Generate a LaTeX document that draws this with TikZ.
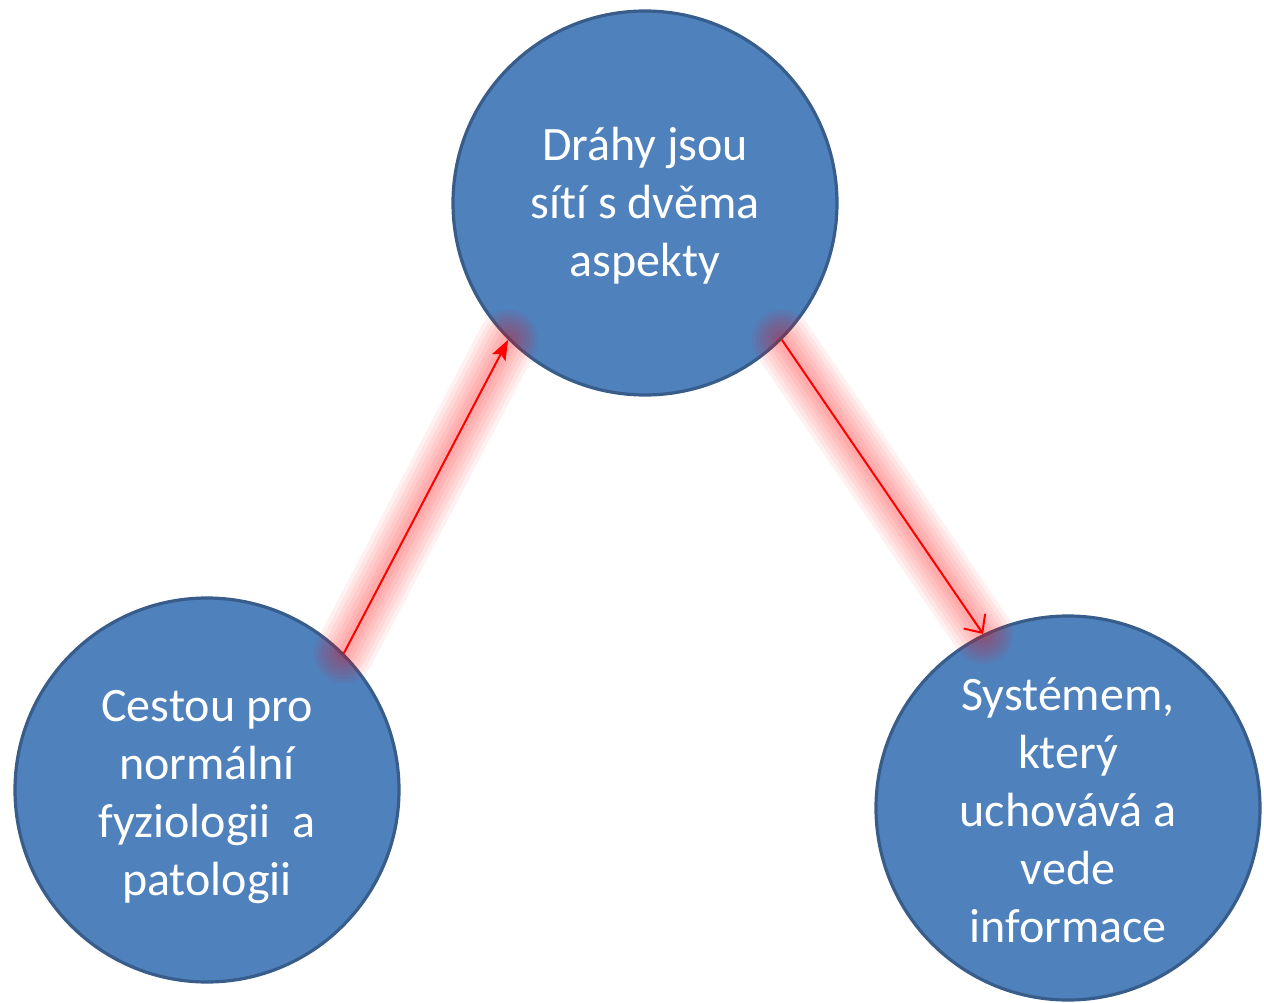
\documentclass[tikz,border=0pt]{standalone}
\usepackage{fontspec}
\setmainfont[Ligatures={NoCommon}]{Carlito}
\usetikzlibrary{arrows.meta}
\definecolor{circfill}{HTML}{4F81BD}
\definecolor{circdraw}{HTML}{385D8A}
\tikzset{
  bubble/.style={circle, draw=circdraw, line width=3.2pt, fill=circfill, minimum size=384pt, inner sep=0pt},
  btext/.style={text=white, align=center, font=\fontsize{48}{58}\selectfont, inner sep=0pt},
  glow/.style={draw=red, line cap=round, opacity=0.055},
  link/.style={draw=red, line width=2pt}
}
\begin{document}
\begin{tikzpicture}[x=1pt,y=-1pt]
\useasboundingbox (0,0) rectangle (1264,1003);
\node[bubble] (top) at (645,203) {};
\node[bubble] (left) at (207,790) {};
\node[bubble] (right) at (1068,808) {};
\node[btext] (toptext) at (645,206) {Dráhy jsou\\sítí s dvěma\\aspekty};
\node[btext] (lefttext) at (207,797) {Cestou pro\\normální\\fyziologii\ \ a\\patologii};
\node[btext] (righttext) at (1068,810) {Systémem,\\který\\uchovává a\\vede\\informace};
\foreach \w in {60,52,44,36,28,20,12} {
  \path[glow, line width=\w pt] (left.45) -- (top.225);
  \path[glow, line width=\w pt] (top.-45) -- (right.116);
}
\draw[link, -{Stealth[length=20pt,width=15pt,inset=4pt]}] (left.45) -- (top.225);
\draw[link, -{Straight Barb[length=14pt,width=26pt]}] (top.-45) -- (right.116);
\end{tikzpicture}
\end{document}
